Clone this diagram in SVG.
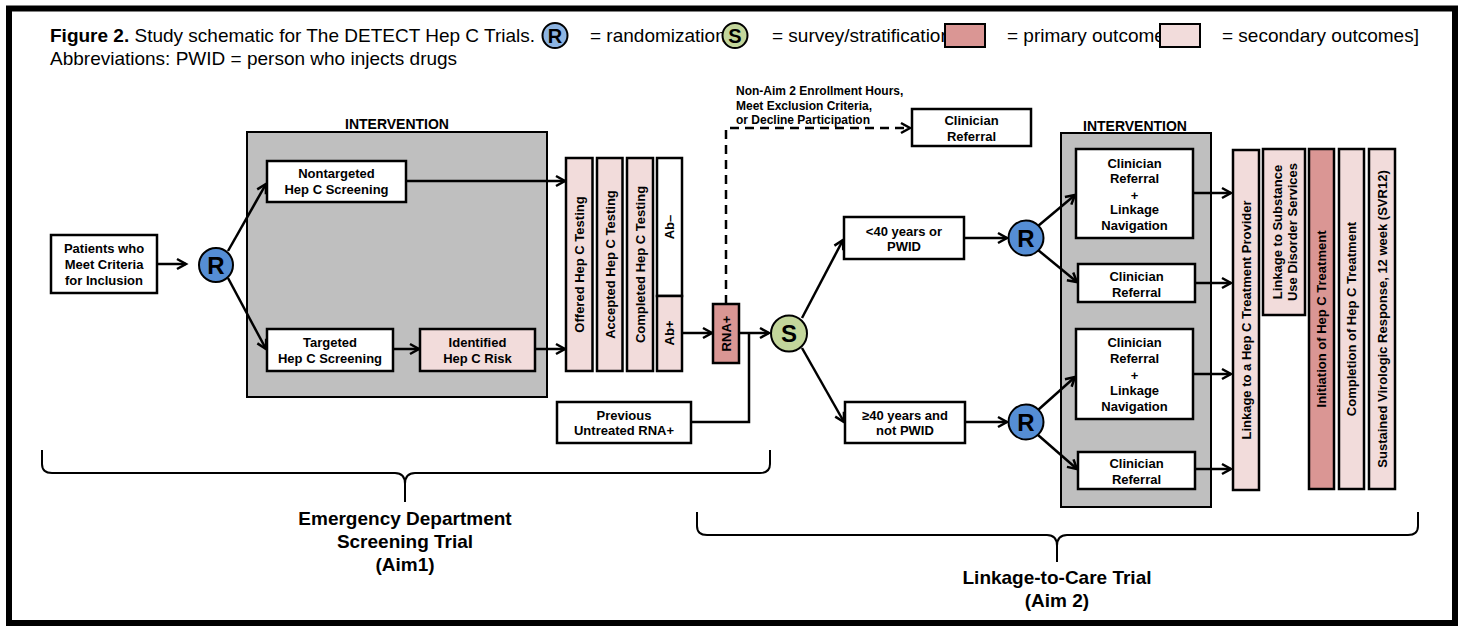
<svg xmlns="http://www.w3.org/2000/svg" width="1467" height="626" viewBox="0 0 1467 626">
<defs>
<style>
text{font-family:"Liberation Sans",Arial,sans-serif;fill:#000}
.b{font-weight:bold;font-size:13px;text-anchor:middle}
.lbl{font-weight:bold;font-size:12px}
.hd{font-weight:bold;font-size:14px;text-anchor:middle}
.big{font-weight:bold;font-size:19px;text-anchor:middle}
.ttl{font-size:19px}
.box{fill:#fff;stroke:#000;stroke-width:2.5}
.sec{fill:#F2DCDB;stroke:#000;stroke-width:2.5}
.pri{fill:#DA9694;stroke:#000;stroke-width:2.5}
.grey{fill:#BFBFBF;stroke:#000;stroke-width:2}
.rc{fill:#558ED5;stroke:#000;stroke-width:2}
.sc{fill:#C3D69B;stroke:#000;stroke-width:2}
.rl{font-weight:bold;font-size:24px;text-anchor:middle}
.ln{fill:none;stroke:#000;stroke-width:2.5}
.br{fill:none;stroke:#000;stroke-width:2}
</style>
<marker id="ah" markerUnits="userSpaceOnUse" markerWidth="14" markerHeight="14" refX="10" refY="6" orient="auto" viewBox="0 0 14 12">
<path d="M1,1 L10,6 L1,11" fill="none" stroke="#000" stroke-width="2.5"/>
</marker>
</defs>

<rect x="9" y="8.5" width="1446" height="614.5" fill="#fff" stroke="#000" stroke-width="6"/>

<g id="legend">
<text class="ttl" x="50" y="42"><tspan font-weight="bold">Figure 2.</tspan> Study schematic for The DETECT Hep C Trials.</text>
<text class="ttl" x="590" y="42">= randomization</text>
<text class="ttl" x="772" y="42">= survey/stratification</text>
<text class="ttl" x="1007" y="42">= primary outcome</text>
<text class="ttl" x="1222" y="42">= secondary outcomes]</text>
<text class="ttl" x="50" y="65">Abbreviations: PWID = person who injects drugs</text>
<circle cx="555" cy="35.5" r="12.5" fill="#8DB4E2" stroke="#000" stroke-width="2"/>
<text x="555" y="42.5" font-weight="bold" font-size="20" text-anchor="middle">R</text>
<circle cx="735" cy="35.5" r="12.5" class="sc"/>
<text x="735" y="42.5" font-weight="bold" font-size="20" text-anchor="middle">S</text>
<rect x="945" y="24" width="40" height="23" fill="#DA9694" stroke="#000" stroke-width="2"/>
<rect x="1160" y="24" width="40" height="23" fill="#F2DCDB" stroke="#000" stroke-width="2"/>
</g>

<g id="intervention1">
<rect class="grey" x="247" y="132" width="300" height="265"/>
<text class="hd" x="397" y="128.5">INTERVENTION</text>
</g>
<g id="intervention2">
<rect class="grey" x="1061" y="133" width="150" height="374"/>
<text class="hd" x="1135" y="131">INTERVENTION</text>
</g>

<g id="connectors">
<path class="ln" d="M157,264 H186" marker-end="url(#ah)"/>
<path class="ln" d="M228,251 L266,184" marker-end="url(#ah)"/>
<path class="ln" d="M228,278 L266,349" marker-end="url(#ah)"/>
<path class="ln" d="M406,181 H565" marker-end="url(#ah)"/>
<path class="ln" d="M393,349 H419" marker-end="url(#ah)"/>
<path class="ln" d="M535,349 H565" marker-end="url(#ah)"/>
<path class="ln" d="M682,333 H712" marker-end="url(#ah)"/>
<path class="ln" d="M739,333 H769" marker-end="url(#ah)"/>
<path class="ln" d="M691,422 H749 V333"/>
<path class="ln" d="M726,304 V128 H910" stroke-dasharray="9,6" marker-end="url(#ah)"/>
<path class="ln" d="M802,318 L843,240" marker-end="url(#ah)"/>
<path class="ln" d="M802,348 L844,422" marker-end="url(#ah)"/>
<path class="ln" d="M964,238 H1007" marker-end="url(#ah)"/>
<path class="ln" d="M965,422 H1007" marker-end="url(#ah)"/>
<path class="ln" d="M1038,226 L1075,195" marker-end="url(#ah)"/>
<path class="ln" d="M1038,250 L1077,282" marker-end="url(#ah)"/>
<path class="ln" d="M1038,410 L1075,377" marker-end="url(#ah)"/>
<path class="ln" d="M1038,435 L1077,469" marker-end="url(#ah)"/>
<path class="ln" d="M1193,193 H1231" marker-end="url(#ah)"/>
<path class="ln" d="M1195,283 H1231" marker-end="url(#ah)"/>
<path class="ln" d="M1193,374 H1231" marker-end="url(#ah)"/>
<path class="ln" d="M1195,469 H1231" marker-end="url(#ah)"/>
</g>

<g id="patients">
<rect class="box" x="51" y="235" width="106" height="58"/>
<text class="b" x="104" y="252.5">Patients who</text>
<text class="b" x="104" y="268.5">Meet Criteria</text>
<text class="b" x="104" y="284.5">for Inclusion</text>
</g>
<g id="rand1">
<circle class="rc" cx="216" cy="265" r="17"/>
<text class="rl" x="216" y="273.5">R</text>
</g>
<g id="nontargeted">
<rect class="box" x="267" y="161" width="139" height="41"/>
<text class="b" x="336.5" y="177.5">Nontargeted</text>
<text class="b" x="336.5" y="193.5">Hep C Screening</text>
</g>
<g id="targeted">
<rect class="box" x="267" y="329" width="126" height="42"/>
<text class="b" x="330" y="346.5">Targeted</text>
<text class="b" x="330" y="362.5">Hep C Screening</text>
</g>
<g id="identified">
<rect class="sec" x="420" y="329" width="115" height="42"/>
<text class="b" x="477.5" y="346.5">Identified</text>
<text class="b" x="477.5" y="362.5">Hep C Risk</text>
</g>
<g id="offered">
<rect class="sec" x="566" y="158" width="26.5" height="213"/>
<text class="b" transform="translate(579.5,264.5) rotate(-90)" y="4.5">Offered Hep C Testing</text>
</g>
<g id="accepted">
<rect class="sec" x="597" y="158" width="25.5" height="213"/>
<text class="b" transform="translate(610,264.5) rotate(-90)" y="4.5">Accepted Hep C Testing</text>
</g>
<g id="completed">
<rect class="sec" x="627" y="158" width="26" height="213"/>
<text class="b" transform="translate(640,264.5) rotate(-90)" y="4.5">Completed Hep C Testing</text>
</g>
<g id="ab">
<rect class="box" x="657" y="158" width="25" height="138"/>
<rect class="sec" x="657" y="296" width="25" height="75"/>
<text class="b" transform="translate(669.5,227) rotate(-90)" y="4.5">Ab–</text>
<text class="b" transform="translate(669.5,333) rotate(-90)" y="4.5">Ab+</text>
</g>
<g id="rna">
<rect class="pri" x="713" y="304" width="26" height="59"/>
<text class="b" transform="translate(726,333.5) rotate(-90)" y="4.5">RNA+</text>
</g>
<g id="previous">
<rect class="box" x="557" y="402" width="134" height="41"/>
<text class="b" x="624" y="419.5">Previous</text>
<text class="b" x="624" y="434.5">Untreated RNA+</text>
</g>
<g id="exclusion-label">
<text class="lbl" x="736" y="95">Non-Aim 2 Enrollment Hours,</text>
<text class="lbl" x="736" y="109.5">Meet Exclusion Criteria,</text>
<text class="lbl" x="736" y="124">or Decline Participation</text>
</g>
<g id="clinician-top">
<rect class="box" x="912" y="109" width="119" height="37"/>
<text class="b" x="971.5" y="125">Clinician</text>
<text class="b" x="971.5" y="140.5">Referral</text>
</g>
<g id="strat">
<circle class="sc" cx="789" cy="333.5" r="18"/>
<text class="rl" x="789" y="342" font-size="26">S</text>
</g>
<g id="under40">
<rect class="box" x="844" y="217" width="120" height="42"/>
<text class="b" x="904" y="235.5">&lt;40 years or</text>
<text class="b" x="904" y="250.5">PWID</text>
</g>
<g id="over40">
<rect class="box" x="845" y="402" width="120" height="41"/>
<text class="b" x="905" y="419.5">≥40 years and</text>
<text class="b" x="905" y="434.5">not PWID</text>
</g>
<g id="rand2">
<circle class="rc" cx="1026" cy="238" r="17.5"/>
<text class="rl" x="1026" y="246.5">R</text>
</g>
<g id="rand3">
<circle class="rc" cx="1026" cy="422" r="17.5"/>
<text class="rl" x="1026" y="430.5">R</text>
</g>
<g id="crln1">
<rect class="box" x="1076" y="149" width="117" height="89"/>
<text class="b" x="1134.5" y="167.5">Clinician</text>
<text class="b" x="1134.5" y="183">Referral</text>
<text class="b" x="1134.5" y="199.5">+</text>
<text class="b" x="1134.5" y="214">Linkage</text>
<text class="b" x="1134.5" y="229.5">Navigation</text>
</g>
<g id="cr1">
<rect class="box" x="1078" y="264" width="117" height="38"/>
<text class="b" x="1136.5" y="280.5">Clinician</text>
<text class="b" x="1136.5" y="296.5">Referral</text>
</g>
<g id="crln2">
<rect class="box" x="1076" y="329" width="117" height="90"/>
<text class="b" x="1134.5" y="346.5">Clinician</text>
<text class="b" x="1134.5" y="362.5">Referral</text>
<text class="b" x="1134.5" y="379.5">+</text>
<text class="b" x="1134.5" y="394.5">Linkage</text>
<text class="b" x="1134.5" y="410.5">Navigation</text>
</g>
<g id="cr2">
<rect class="box" x="1078" y="452" width="117" height="37"/>
<text class="b" x="1136.5" y="467.5">Clinician</text>
<text class="b" x="1136.5" y="483.5">Referral</text>
</g>
<g id="linkage-provider">
<rect class="sec" x="1233" y="150" width="26" height="340"/>
<text class="b" transform="translate(1246,320) rotate(-90)" y="4.5">Linkage to a Hep C Treatment Provider</text>
</g>
<g id="linkage-sud">
<rect class="sec" x="1263" y="149" width="42" height="166"/>
<text class="b" transform="translate(1284,232) rotate(-90)" y="-2.5">Linkage to Substance</text>
<text class="b" transform="translate(1284,232) rotate(-90)" y="12.5">Use Disorder Services</text>
</g>
<g id="initiation">
<rect class="pri" x="1309" y="149" width="25" height="340"/>
<text class="b" transform="translate(1321.5,319) rotate(-90)" y="4.5">Initiation of Hep C Treatment</text>
</g>
<g id="completion">
<rect class="sec" x="1339" y="149" width="25" height="340"/>
<text class="b" transform="translate(1351.5,319) rotate(-90)" y="4.5">Completion of Hep C Treatment</text>
</g>
<g id="svr">
<rect class="sec" x="1369" y="149" width="26" height="340"/>
<text class="b" transform="translate(1382,319) rotate(-90)" y="4.5">Sustained Virologic Response, 12 week (SVR12)</text>
</g>

<g id="bracket-aim1">
<path class="br" d="M42,450 V464 Q42,473 52,473 H395 Q405,473 405,484 V502 M405,484 Q405,473 415,473 H760 Q770,473 770,464 V450"/>
<text class="big" x="405" y="525">Emergency Department</text>
<text class="big" x="405" y="548">Screening Trial</text>
<text class="big" x="405" y="571">(Aim1)</text>
</g>
<g id="bracket-aim2">
<path class="br" d="M697,512 V526 Q697,535 707,535 H1047 Q1057,535 1057,546 V562 M1057,546 Q1057,535 1067,535 H1408 Q1418,535 1418,526 V512"/>
<text class="big" x="1057" y="584">Linkage-to-Care Trial</text>
<text class="big" x="1057" y="607">(Aim 2)</text>
</g>
</svg>
